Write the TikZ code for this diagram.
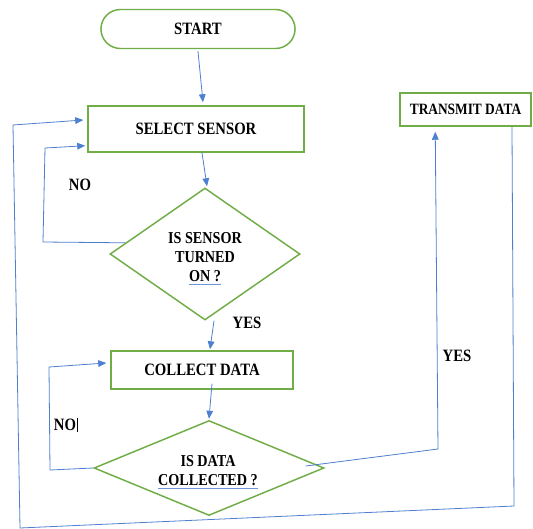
\documentclass[tikz,border=0pt]{standalone}
\usepackage{fontspec}
\setmainfont{Liberation Serif}[FakeStretch=0.85]
\usetikzlibrary{shapes.geometric,shapes.misc,arrows.meta,calc}
\definecolor{boxgreen}{HTML}{70AD47}
\definecolor{lineblue}{HTML}{4F7FD0}
\definecolor{ulblue}{HTML}{6F95DA}
\tikzset{
  box/.style={draw=boxgreen, line width=1.1pt, rectangle, font=\fontsize{13}{15}\selectfont\bfseries, align=center},
  term/.style={draw=boxgreen, line width=1.1pt, rounded rectangle, font=\fontsize{13}{15}\selectfont\bfseries},
  decision/.style={draw=boxgreen, line width=1.1pt, diamond, inner sep=0pt},
  lbl/.style={font=\fontsize{13}{15}\selectfont\bfseries},
  tline/.style={font=\fontsize{12.5}{14}\selectfont\bfseries, inner sep=0pt, anchor=base},
  uline/.style={draw=ulblue, line width=0.6pt},
  conn/.style={draw=lineblue, line width=0.6pt},
  arr/.style={conn, -{Triangle[length=6pt,width=5pt]}}
}
\begin{document}
\begin{tikzpicture}[x=0.75pt,y=-0.75pt]
\useasboundingbox (0,0) rectangle (533,529);
% nodes
\node[term, minimum width=152.25pt, minimum height=29.25pt] (start) at (198,29) {START};
\node[box, minimum width=162pt, minimum height=34.5pt] (sel) at (196,129) {SELECT SENSOR};
\node[decision, minimum width=142.5pt, minimum height=99pt] (d1) at (205,254) {};
\node[tline] (d1a) at (205,243) {IS SENSOR};
\node[tline] (d1b) at (205,262) {TURNED};
\node[tline] (d1c) at (205,281) {ON ?};
\draw[uline] ($(d1c.base west)+(0,3)$) -- ($(d1c.base east)+(0,3)$);
\node[box, minimum width=136.5pt, minimum height=28.5pt] (col) at (202,370) {COLLECT DATA};
\node[decision, minimum width=172.5pt, minimum height=71.25pt] (d2) at (209,468) {};
\node[tline] (d2a) at (208,466) {IS DATA};
\node[tline] (d2b) at (208,485) {COLLECTED ?};
\draw[uline] ($(d2b.base west)+(0,3)$) -- ($(d2b.base east)+(0,3)$);
\node[box, minimum width=98.25pt, minimum height=24.75pt, font=\fontsize{11.8}{13}\selectfont\bfseries] (tx) at (465.5,109.5) {TRANSMIT DATA};
% labels
\node[lbl] (no1) at (80,185) {NO};
\node[lbl] (yes1) at (247,323) {YES};
\node[lbl] (no2) at (65,425) {NO};
\node[lbl] (yes2) at (457,356) {YES};
\draw[black, line width=0.4pt] ($(no2.east)+(-3,-7)$) -- ($(no2.east)+(-3,7)$);
% bend points
\coordinate (n1a) at (43,242);
\coordinate (n1b) at (45,148);
\coordinate (n2a) at (50,470);
\coordinate (n2b) at (49,367);
\coordinate (y2a) at (438,449);
\coordinate (t1) at (512,127);
\coordinate (t2) at (514,506);
\coordinate (t3) at (20,528);
\coordinate (t4) at (13,125);
% connectors
\draw[arr] ($(start.south)+(0,2)$) -- ($(sel.north)+(7,-3)$);
\draw[arr] ($(sel.south)+(6,0)$) -- ($(d1.north)+(2,-1)$);
\draw[arr] ($(d1.south)+(9,0)$) -- ($(col.north)+(8,-1)$);
\draw[arr] (d1.172) -- (n1a) -- (n1b) -- ($(sel.south west)+(-2,-7)$);
\draw[arr] ($(col.south)+(10,-6)$) -- ($(d2.north)+(0,-1)$);
\draw[arr] (d2.west) -- (n2a) -- (n2b) -- ($(col.west)+(-4,-7)$);
\draw[arr] ($(d2.east)+(-19,-2)$) -- (y2a) -- ($(tx.south west)+(36,5)$);
\draw[arr] (t1) -- (t2) -- (t3) -- (t4) -- ($(sel.west)+(-4,-9)$);
\end{tikzpicture}
\end{document}
